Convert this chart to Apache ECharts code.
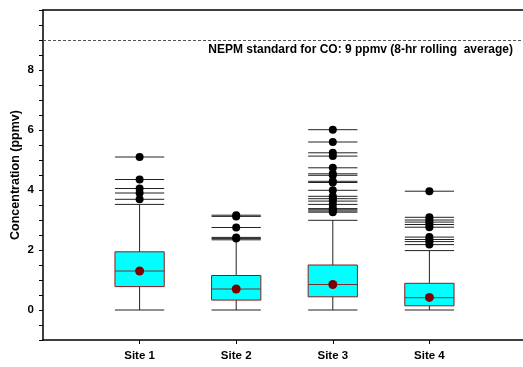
<!DOCTYPE html>
<html>
<head>
<meta charset="utf-8">
<script src="https://cdn.jsdelivr.net/npm/echarts@6/dist/echarts.min.js"></script>
<style>
  html, body { margin: 0; padding: 0; background: #fff; }
  #chart { width: 523px; height: 367px; }
</style>
</head>
<body>
<div id="chart"></div>
<script>
// 各站点箱线图数据
const sites = ['Site 1', 'Site 2', 'Site 3', 'Site 4'];
const lowWhisker = [0, 0, 0, 0];
const q1 = [0.78, 0.33, 0.44, 0.14];
const median = [1.30, 0.70, 0.85, 0.41];
const q3 = [1.94, 1.15, 1.50, 0.89];
const highWhisker = [3.52, 2.34, 2.99, 1.98];
const means = [1.30, 0.70, 0.85, 0.42];
const outliers1 = [5.10, 4.35, 4.05, 3.90, 3.69];
const outliers2 = [3.16, 3.12, 2.75, 2.42, 2.38];
const outliers3 = [6.01, 5.60, 5.24, 5.13, 4.74, 4.54, 4.49, 4.29, 4.25, 3.99, 3.79, 3.71, 3.63, 3.52, 3.38, 3.34, 3.30, 3.26];
const outliers4 = [3.96, 3.09, 3.00, 2.93, 2.85, 2.76, 2.43, 2.35, 2.28, 2.18];
const standardValue = 9;
const yTicks = [0, 2, 4, 6, 8];

const outlierLists = [outliers1, outliers2, outliers3, outliers4];
const boxData = sites.map((s, i) => [i + 1, lowWhisker[i], q1[i], median[i], q3[i], highWhisker[i]]);
const meanData = sites.map((s, i) => [i + 1, means[i]]);
const outlierData = [];
outlierLists.forEach((list, i) => {
    list.forEach((v) => outlierData.push([i + 1, v]));
});

const font = 'Liberation Sans, Arial, sans-serif';
const myChart = echarts.init(document.getElementById('chart'));

myChart.setOption({
    animation: false,
    grid: { left: 43, right: -3, top: 10, bottom: 27, outerBoundsMode: 'none' },
    xAxis: [
        {
            type: 'value',
            min: 0,
            max: 5,
            interval: 1,
            splitLine: { show: false },
            axisLine: { onZero: false, lineStyle: { color: '#000', width: 1.5 } },
            axisTick: { customValues: [1, 2, 3, 4], length: 4, lineStyle: { color: '#000' } },
            axisLabel: {
                customValues: [1, 2, 3, 4],
                formatter: (v) => sites[v - 1] || '',
                color: '#000',
                fontFamily: font,
                fontWeight: 'bold',
                fontSize: 11.5,
                margin: 10
            }
        },
        {
            type: 'value',
            position: 'top',
            min: 0,
            max: 5,
            splitLine: { show: false },
            axisLine: { onZero: false, lineStyle: { color: '#000', width: 1.5 } },
            axisTick: { show: false },
            axisLabel: { show: false }
        }
    ],
    yAxis: {
        type: 'value',
        min: -1,
        max: 10,
        interval: 0.5,
        splitLine: { show: false },
        name: 'Concentration (ppmv)',
        nameLocation: 'middle',
        nameGap: 21,
        nameMoveOverlap: false,
        nameTextStyle: { color: '#000', fontFamily: font, fontWeight: 'bold', fontSize: 12.5 },
        axisLine: { onZero: false, lineStyle: { color: '#000', width: 1.5 } },
        axisTick: { length: 4, lineStyle: { color: '#000' } },
        axisLabel: {
            formatter: (v) => (yTicks.indexOf(v) >= 0 ? String(v) : ''),
            color: '#000',
            fontFamily: font,
            fontWeight: 'bold',
            fontSize: 11.5,
            margin: 9
        }
    },
    graphic: [
        {
            type: 'text',
            right: 10,
            top: 44,
            style: {
                text: 'NEPM standard for CO: 9 ppmv (8-hr rolling  average)',
                fill: '#000',
                font: 'bold 12px ' + font
            }
        }
    ],
    series: [
        {
            // 箱体 + 须
            type: 'custom',
            data: boxData,
            renderItem: (params, api) => {
                const x = api.value(0);
                const half = api.size([1, 0])[0] * 0.255;
                const pLow = api.coord([x, api.value(1)]);
                const pQ1 = api.coord([x, api.value(2)]);
                const pMed = api.coord([x, api.value(3)]);
                const pQ3 = api.coord([x, api.value(4)]);
                const pHigh = api.coord([x, api.value(5)]);
                const cx = pLow[0];
                const lineStyle = { stroke: '#222', lineWidth: 1 };
                return {
                    type: 'group',
                    children: [
                        { type: 'line', shape: { x1: cx, y1: pLow[1], x2: cx, y2: pQ1[1] }, style: lineStyle },
                        { type: 'line', shape: { x1: cx, y1: pQ3[1], x2: cx, y2: pHigh[1] }, style: lineStyle },
                        { type: 'line', shape: { x1: cx - half, y1: pLow[1], x2: cx + half, y2: pLow[1] }, style: lineStyle },
                        { type: 'line', shape: { x1: cx - half, y1: pHigh[1], x2: cx + half, y2: pHigh[1] }, style: lineStyle },
                        {
                            type: 'rect',
                            shape: { x: cx - half, y: pQ3[1], width: half * 2, height: pQ1[1] - pQ3[1] },
                            style: { fill: '#00ffff', stroke: '#8b1a1a', lineWidth: 1 }
                        },
                        {
                            type: 'line',
                            shape: { x1: cx - half, y1: pMed[1], x2: cx + half, y2: pMed[1] },
                            style: { stroke: '#7a3030', lineWidth: 1 }
                        }
                    ]
                };
            },
            markLine: {
                silent: true,
                symbol: 'none',
                label: { show: false },
                lineStyle: { color: '#555', type: [3, 2], width: 1 },
                data: [{ yAxis: standardValue }]
            }
        },
        {
            // 异常值
            type: 'custom',
            data: outlierData,
            renderItem: (params, api) => {
                const p = api.coord([api.value(0), api.value(1)]);
                const half = api.size([1, 0])[0] * 0.255;
                return {
                    type: 'group',
                    children: [
                        {
                            type: 'line',
                            shape: { x1: p[0] - half, y1: p[1], x2: p[0] + half, y2: p[1] },
                            style: { stroke: '#222', lineWidth: 1 }
                        },
                        {
                            type: 'circle',
                            shape: { cx: p[0], cy: p[1], r: 4 },
                            style: { fill: '#000' }
                        }
                    ]
                };
            }
        },
        {
            // 平均值
            type: 'scatter',
            data: meanData,
            symbol: 'circle',
            symbolSize: 9,
            itemStyle: { color: '#800000', opacity: 1 }
        }
    ]
});
</script>
</body>
</html>
